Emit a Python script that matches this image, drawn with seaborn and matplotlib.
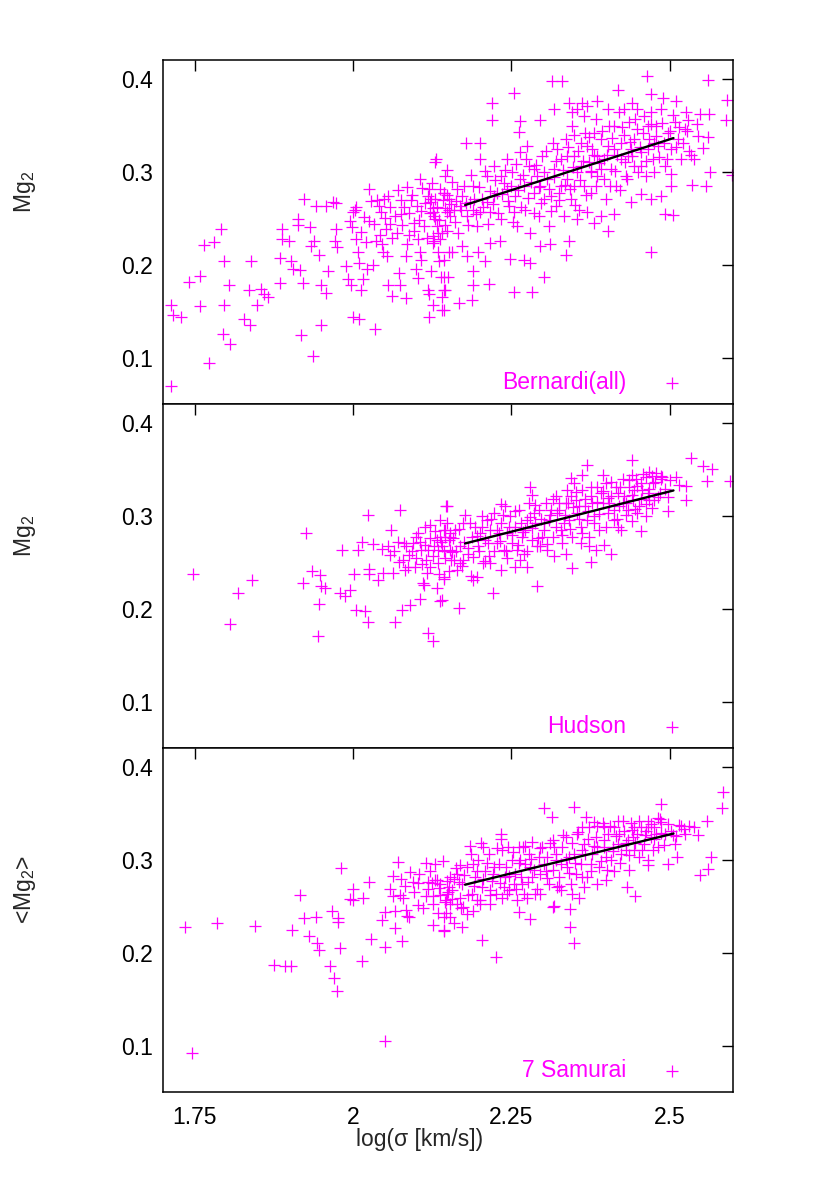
import numpy as np
import matplotlib
matplotlib.use('Agg')
import matplotlib.pyplot as plt
import seaborn as sns
import pandas as pd

# values (log sigma, Mg2)
bernardi_pts = [
    (1.712, 0.069), (1.712, 0.156), (1.715, 0.146), (1.729, 0.144), (1.741, 0.181), (1.758, 0.188),
    (1.758, 0.155), (1.765, 0.221), (1.781, 0.224), (1.791, 0.238), (1.772, 0.094), (1.796, 0.204),
    (1.796, 0.157), (1.795, 0.125), (1.806, 0.114), (1.804, 0.178), (1.828, 0.141), (1.837, 0.135),
    (1.836, 0.173), (1.839, 0.204), (1.848, 0.156), (1.855, 0.174), (1.859, 0.168), (1.865, 0.165),
    (1.884, 0.180), (1.884, 0.207), (1.888, 0.227), (1.888, 0.238), (1.899, 0.225), (1.902, 0.204),
    (1.905, 0.195), (1.917, 0.194), (1.918, 0.124), (1.921, 0.180), (1.913, 0.249), (1.913, 0.243),
    (1.923, 0.271), (1.932, 0.240), (1.937, 0.102), (1.939, 0.225), (1.934, 0.220), (1.942, 0.263),
    (1.946, 0.210), (1.950, 0.178), (1.949, 0.135), (1.957, 0.169), (1.961, 0.193), (1.958, 0.263),
    (1.969, 0.267), (1.973, 0.266), (1.973, 0.238), (1.971, 0.225), (1.975, 0.219), (1.989, 0.198),
    (1.992, 0.184), (1.997, 0.178), (2.000, 0.144), (2.009, 0.141), (2.003, 0.259), (2.000, 0.256),
    (1.995, 0.247), (1.999, 0.240), (2.004, 0.227), (2.008, 0.214), (2.010, 0.202), (2.013, 0.173),
    (2.015, 0.184), (2.021, 0.224), (2.025, 0.281), (2.026, 0.247), (2.022, 0.195), (2.032, 0.200),
    (2.035, 0.131), (2.038, 0.269), (2.041, 0.263), (2.043, 0.232), (2.045, 0.222), (2.047, 0.214),
    (2.051, 0.250), (2.054, 0.209), (2.056, 0.274), (2.059, 0.244), (2.061, 0.166), (2.056, 0.178),
    (2.069, 0.234), (2.073, 0.191), (2.074, 0.178), (2.075, 0.269), (2.076, 0.254), (2.083, 0.209),
    (2.083, 0.164), (2.086, 0.283), (2.088, 0.232), (2.091, 0.269), (2.096, 0.245), (2.100, 0.195),
    (2.102, 0.186), (2.105, 0.292), (2.105, 0.213), (2.102, 0.227), (2.108, 0.258), (2.108, 0.205),
    (2.118, 0.173), (2.120, 0.168), (2.120, 0.144), (2.123, 0.193), (2.126, 0.157), (2.120, 0.281),
    (2.123, 0.270), (2.126, 0.261), (2.128, 0.252), (2.127, 0.231), (2.130, 0.310), (2.131, 0.314),
    (2.134, 0.213), (2.136, 0.204), (2.139, 0.187), (2.140, 0.151), (2.141, 0.165), (2.144, 0.173),
    (2.145, 0.295), (2.149, 0.302), (2.152, 0.259), (2.148, 0.236), (2.152, 0.213), (2.150, 0.187),
    (2.119, 0.274), (2.122, 0.267), (2.127, 0.256), (2.130, 0.249), (2.132, 0.241), (2.135, 0.234),
    (2.137, 0.227), (2.145, 0.261), (2.148, 0.256), (2.143, 0.277), (2.140, 0.234), (2.128, 0.225),
    (2.126, 0.223),
    (2.314, 0.397), (2.330, 0.397), (2.254, 0.385), (2.220, 0.374), (2.220, 0.356), (2.419, 0.388),
    (2.464, 0.403), (2.560, 0.398), (2.591, 0.377), (2.589, 0.356), (2.548, 0.362), (2.562, 0.362),
    (2.560, 0.337), (2.563, 0.300), (2.536, 0.286), (2.557, 0.285), (2.598, 0.296), (2.502, 0.297),
    (2.502, 0.285), (2.493, 0.254), (2.506, 0.253), (2.471, 0.213), (2.301, 0.187), (2.254, 0.171),
    (2.283, 0.171), (2.336, 0.210), (2.402, 0.236), (2.380, 0.245), (2.214, 0.179), (2.189, 0.193),
    (2.190, 0.178), (2.188, 0.162), (2.167, 0.159), (2.144, 0.151), (2.146, 0.173), (2.143, 0.187),
    (2.178, 0.331), (2.200, 0.331), (2.263, 0.354), (2.262, 0.343), (2.296, 0.356), (2.317, 0.367),
    (2.341, 0.374), (2.361, 0.374), (2.385, 0.376), (2.441, 0.374), (2.471, 0.383), (2.489, 0.379),
    (2.510, 0.376), (2.527, 0.344), (2.543, 0.351), (2.531, 0.322), (2.539, 0.314), (2.486, 0.274),
    (2.471, 0.271), (2.455, 0.276), (2.439, 0.267), (2.412, 0.254), (2.391, 0.252), (2.370, 0.256),
    (2.354, 0.249), (2.341, 0.225), (2.311, 0.222), (2.296, 0.220), (2.280, 0.202), (2.270, 0.205),
    (2.248, 0.206), (2.232, 0.225), (2.216, 0.223), (2.208, 0.204), (2.198, 0.213), (2.180, 0.209),
    (2.172, 0.220), (2.157, 0.214), (2.143, 0.205),
    (2.143, 0.277), (2.151, 0.270), (2.159, 0.259), (2.164, 0.281), (2.172, 0.274), (2.180, 0.252),
    (2.185, 0.267), (2.190, 0.285), (2.196, 0.241), (2.201, 0.313), (2.203, 0.270), (2.211, 0.295),
    (2.217, 0.256), (2.222, 0.306), (2.227, 0.277), (2.233, 0.249), (2.238, 0.288), (2.243, 0.313),
    (2.246, 0.263), (2.251, 0.299), (2.256, 0.274), (2.259, 0.241), (2.264, 0.321), (2.270, 0.285),
    (2.272, 0.259), (2.278, 0.306), (2.280, 0.234), (2.285, 0.277), (2.291, 0.295), (2.293, 0.252),
    (2.299, 0.317), (2.301, 0.270), (2.307, 0.292), (2.309, 0.241), (2.315, 0.331), (2.317, 0.303),
    (2.320, 0.263), (2.325, 0.277), (2.328, 0.313), (2.333, 0.252), (2.336, 0.335), (2.338, 0.292),
    (2.344, 0.270), (2.346, 0.349), (2.349, 0.317), (2.354, 0.299), (2.357, 0.259), (2.360, 0.331),
    (2.365, 0.285), (2.367, 0.342), (2.373, 0.310), (2.375, 0.277), (2.378, 0.324), (2.383, 0.357),
    (2.386, 0.295), (2.391, 0.335), (2.397, 0.313), (2.399, 0.270), (2.404, 0.349), (2.407, 0.303),
    (2.412, 0.324), (2.415, 0.285), (2.420, 0.364), (2.423, 0.313), (2.428, 0.339), (2.431, 0.295),
    (2.436, 0.353), (2.439, 0.324), (2.444, 0.306), (2.449, 0.346), (2.455, 0.321), (2.460, 0.360),
    (2.463, 0.295), (2.468, 0.335), (2.473, 0.313), (2.479, 0.349), (2.481, 0.328), (2.486, 0.367),
    (2.492, 0.306), (2.497, 0.342), (2.502, 0.324), (2.508, 0.353), (2.513, 0.335), (2.518, 0.313),
    (2.524, 0.346), (2.526, 0.364),
    (2.322, 0.324), (2.338, 0.317), (2.349, 0.285), (2.360, 0.306), (2.370, 0.328), (2.381, 0.342),
    (2.391, 0.303), (2.402, 0.328), (2.412, 0.349), (2.423, 0.331), (2.434, 0.317), (2.444, 0.335),
    (2.455, 0.306), (2.465, 0.349), (2.476, 0.331), (2.349, 0.339), (2.328, 0.285), (2.312, 0.274),
    (2.296, 0.285), (2.285, 0.303), (2.275, 0.328), (2.264, 0.292), (2.254, 0.256), (2.243, 0.281),
    (2.233, 0.295), (2.222, 0.274), (2.211, 0.267), (2.201, 0.256), (2.190, 0.259), (2.169, 0.263),
    (2.153, 0.252), (2.375, 0.299), (2.386, 0.317), (2.365, 0.360), (2.354, 0.367), (2.346, 0.364),
    (2.402, 0.367), (2.428, 0.367), (2.449, 0.367), (2.471, 0.364), (2.370, 0.371),
    (2.005, 0.262), (2.012, 0.235), (2.018, 0.251), (2.028, 0.268), (2.033, 0.244), (2.037, 0.225),
    (2.044, 0.256), (2.049, 0.271), (2.052, 0.238), (2.058, 0.262), (2.062, 0.229), (2.066, 0.252),
    (2.071, 0.280), (2.078, 0.243), (2.081, 0.262), (2.085, 0.222), (2.089, 0.255), (2.093, 0.275),
    (2.097, 0.236), (2.101, 0.263), (2.104, 0.248), (2.109, 0.282), (2.112, 0.241), (2.114, 0.266),
    (2.117, 0.229), (2.121, 0.255), (2.125, 0.288), (2.129, 0.271), (2.133, 0.262), (2.136, 0.248),
    (2.138, 0.281), (2.142, 0.269), (2.146, 0.243), (2.149, 0.275), (2.154, 0.265), (2.157, 0.289),
    (2.161, 0.246), (2.163, 0.268), (2.166, 0.234), (2.170, 0.259), (2.175, 0.285), (2.178, 0.266),
    (2.182, 0.243), (2.186, 0.296), (2.191, 0.271), (2.194, 0.254), (2.199, 0.283), (2.205, 0.262),
    (2.208, 0.301), (2.213, 0.244), (2.216, 0.279), (2.221, 0.265), (2.224, 0.291), (2.229, 0.255),
    (2.235, 0.276), (2.240, 0.302), (2.244, 0.268), (2.249, 0.285), (2.253, 0.246), (2.257, 0.308),
    (2.261, 0.280), (2.266, 0.262), (2.268, 0.296), (2.273, 0.313), (2.277, 0.272), (2.281, 0.289),
    (2.286, 0.255), (2.289, 0.307), (2.294, 0.283), (2.297, 0.266), (2.302, 0.299), (2.305, 0.322),
    (2.310, 0.281), (2.313, 0.258), (2.318, 0.294), (2.321, 0.311), (2.326, 0.269), (2.331, 0.302),
    (2.334, 0.286), (2.339, 0.326), (2.343, 0.281), (2.347, 0.305), (2.351, 0.264), (2.356, 0.322),
    (2.359, 0.291), (2.363, 0.311), (2.368, 0.275), (2.372, 0.337), (2.376, 0.301), (2.380, 0.318),
    (2.384, 0.284), (2.389, 0.309), (2.393, 0.344), (2.396, 0.292), (2.401, 0.318), (2.405, 0.285),
    (2.409, 0.336), (2.413, 0.301), (2.417, 0.318), (2.421, 0.280), (2.425, 0.348), (2.429, 0.310),
    (2.433, 0.292), (2.437, 0.332), (2.441, 0.317), (2.446, 0.357), (2.450, 0.299), (2.453, 0.326),
    (2.458, 0.341), (2.462, 0.311), (2.466, 0.324), (2.470, 0.351), (2.475, 0.300), (2.478, 0.338),
    (2.483, 0.316), (2.488, 0.352), (2.491, 0.331), (2.495, 0.314), (2.500, 0.344), (2.505, 0.361),
    (2.510, 0.326), (2.515, 0.348), (2.521, 0.331), (2.529, 0.356), (2.534, 0.318), (2.545, 0.338),
    (2.552, 0.325),
]

hudson_pts = [
    (1.748, 0.237), (1.806, 0.183), (1.819, 0.217), (1.840, 0.231), (1.921, 0.228), (1.925, 0.281),
    (1.936, 0.240), (1.948, 0.236), (1.950, 0.224), (1.955, 0.222), (1.946, 0.205), (1.944, 0.171),
    (1.979, 0.217), (1.988, 0.213), (1.996, 0.220), (1.983, 0.263), (2.001, 0.237), (2.004, 0.198),
    (2.019, 0.197), (2.024, 0.186), (2.008, 0.263), (2.014, 0.272), (2.024, 0.301), (2.026, 0.243),
    (2.026, 0.237), (2.031, 0.269), (2.040, 0.231), (2.045, 0.264), (2.047, 0.238), (2.055, 0.267),
    (2.058, 0.258), (2.060, 0.285), (2.063, 0.238), (2.067, 0.185), (2.071, 0.272), (2.074, 0.306),
    (2.078, 0.198), (2.079, 0.252), (2.082, 0.241), (2.084, 0.267), (2.088, 0.258), (2.090, 0.204),
    (2.098, 0.245), (2.100, 0.277), (2.105, 0.210), (2.108, 0.263), (2.111, 0.227), (2.112, 0.225),
    (2.114, 0.288), (2.116, 0.252), (2.118, 0.174), (2.122, 0.290), (2.122, 0.245), (2.127, 0.165),
    (2.128, 0.267), (2.133, 0.222), (2.136, 0.237), (2.138, 0.208), (2.137, 0.295), (2.141, 0.267),
    (2.143, 0.232), (2.146, 0.254), (2.147, 0.310), (2.152, 0.274), (2.152, 0.240), (2.153, 0.281),
    (2.132, 0.274), (2.135, 0.263), (2.143, 0.285), (2.145, 0.277), (2.156, 0.261), (2.119, 0.263),
    (2.106, 0.272), (2.095, 0.270),
    (2.168, 0.201), (2.221, 0.217), (2.291, 0.224), (2.345, 0.244), (2.376, 0.250), (2.407, 0.259),
    (2.317, 0.256), (2.140, 0.209), (2.143, 0.234), (2.190, 0.231), (2.187, 0.235), (2.148, 0.310),
    (2.177, 0.301), (2.233, 0.312), (2.279, 0.331), (2.283, 0.322), (2.344, 0.340), (2.349, 0.335),
    (2.362, 0.344), (2.369, 0.354), (2.395, 0.344), (2.440, 0.360), (2.440, 0.344), (2.467, 0.347),
    (2.472, 0.343), (2.488, 0.341), (2.514, 0.333), (2.526, 0.332), (2.525, 0.317), (2.534, 0.362),
    (2.552, 0.353), (2.567, 0.350), (2.559, 0.337), (2.595, 0.337), (2.498, 0.320), (2.497, 0.305),
    (2.455, 0.283), (2.441, 0.294), (2.418, 0.288), (2.463, 0.299), (2.396, 0.268), (2.383, 0.263),
    (2.336, 0.259), (2.255, 0.245), (2.275, 0.245), (2.243, 0.254), (2.291, 0.267), (2.217, 0.249),
    (2.159, 0.252), (2.169, 0.249), (2.153, 0.263), (2.137, 0.277), (2.145, 0.285),
    (2.153, 0.277), (2.161, 0.285), (2.169, 0.267), (2.174, 0.292), (2.182, 0.259), (2.188, 0.277),
    (2.193, 0.288), (2.198, 0.267), (2.203, 0.299), (2.209, 0.274), (2.214, 0.256), (2.217, 0.285),
    (2.222, 0.303), (2.227, 0.270), (2.233, 0.292), (2.238, 0.263), (2.243, 0.281), (2.248, 0.299),
    (2.251, 0.270), (2.256, 0.288), (2.262, 0.306), (2.267, 0.277), (2.270, 0.259), (2.275, 0.295),
    (2.278, 0.313), (2.283, 0.274), (2.288, 0.292), (2.293, 0.306), (2.296, 0.267), (2.301, 0.285),
    (2.304, 0.313), (2.309, 0.295), (2.315, 0.277), (2.320, 0.321), (2.322, 0.303), (2.328, 0.285),
    (2.330, 0.270), (2.336, 0.313), (2.338, 0.328), (2.341, 0.295), (2.346, 0.277), (2.352, 0.317),
    (2.354, 0.303), (2.360, 0.288), (2.362, 0.328), (2.367, 0.310), (2.373, 0.277), (2.375, 0.321),
    (2.381, 0.299), (2.386, 0.331), (2.389, 0.285), (2.394, 0.313), (2.399, 0.335), (2.402, 0.303),
    (2.407, 0.321), (2.412, 0.295), (2.415, 0.331), (2.420, 0.310), (2.426, 0.339), (2.428, 0.321),
    (2.434, 0.306), (2.436, 0.331), (2.442, 0.317), (2.447, 0.339), (2.452, 0.310), (2.457, 0.328),
    (2.463, 0.342), (2.468, 0.317), (2.473, 0.335), (2.479, 0.346), (2.484, 0.324), (2.486, 0.339),
    (2.201, 0.281), (2.211, 0.295), (2.230, 0.281), (2.240, 0.310), (2.259, 0.263), (2.272, 0.285),
    (2.285, 0.303), (2.299, 0.277), (2.312, 0.306), (2.325, 0.313), (2.333, 0.292), (2.344, 0.321),
    (2.357, 0.310), (2.370, 0.295), (2.378, 0.313), (2.391, 0.324), (2.404, 0.313), (2.418, 0.324),
    (2.431, 0.313), (2.444, 0.328), (2.455, 0.335), (2.465, 0.324), (2.476, 0.317), (2.449, 0.303),
    (2.423, 0.285), (2.373, 0.267), (2.360, 0.270), (2.307, 0.263), (2.264, 0.252), (2.233, 0.241),
    (2.206, 0.249), (2.174, 0.252), (2.164, 0.241), (2.196, 0.234),
    (2.065, 0.262), (2.072, 0.250), (2.080, 0.271), (2.087, 0.245), (2.093, 0.262), (2.099, 0.254),
    (2.103, 0.281), (2.109, 0.248), (2.113, 0.268), (2.117, 0.238), (2.121, 0.276), (2.126, 0.257),
    (2.130, 0.283), (2.134, 0.249), (2.139, 0.272), (2.144, 0.262), (2.149, 0.292), (2.154, 0.252),
    (2.158, 0.276), (2.163, 0.262), (2.167, 0.286), (2.172, 0.246), (2.176, 0.272), (2.181, 0.265),
    (2.185, 0.292), (2.190, 0.255), (2.195, 0.278), (2.199, 0.262), (2.204, 0.288), (2.208, 0.251),
    (2.213, 0.271), (2.218, 0.296), (2.223, 0.262), (2.228, 0.284), (2.232, 0.273), (2.237, 0.301),
    (2.242, 0.262), (2.246, 0.288), (2.251, 0.279), (2.255, 0.305), (2.260, 0.268), (2.265, 0.292),
    (2.269, 0.282), (2.274, 0.262), (2.279, 0.298), (2.283, 0.287), (2.288, 0.311), (2.292, 0.276),
    (2.297, 0.296), (2.302, 0.292), (2.306, 0.269), (2.311, 0.301), (2.316, 0.318), (2.320, 0.288),
    (2.325, 0.306), (2.330, 0.279), (2.334, 0.301), (2.339, 0.313), (2.343, 0.286), (2.348, 0.309),
    (2.352, 0.325), (2.357, 0.296), (2.362, 0.281), (2.366, 0.318), (2.371, 0.305), (2.376, 0.331),
    (2.380, 0.292), (2.385, 0.315), (2.389, 0.302), (2.394, 0.326), (2.399, 0.288), (2.403, 0.319),
    (2.408, 0.336), (2.412, 0.306), (2.417, 0.296), (2.421, 0.331), (2.426, 0.314), (2.431, 0.301),
    (2.435, 0.338), (2.440, 0.322), (2.445, 0.307), (2.449, 0.332), (2.454, 0.318), (2.458, 0.345),
    (2.463, 0.312), (2.468, 0.329), (2.472, 0.308), (2.477, 0.336), (2.482, 0.320), (2.487, 0.343),
    (2.492, 0.329), (2.500, 0.338), (2.510, 0.342),
]

samurai_pts = [
    (1.734, 0.228), (1.745, 0.092), (1.785, 0.232), (1.845, 0.229), (1.875, 0.187), (1.892, 0.185),
    (1.902, 0.186), (1.903, 0.224), (1.917, 0.262), (1.922, 0.237), (1.931, 0.218), (1.942, 0.238),
    (1.943, 0.210), (1.946, 0.203), (1.964, 0.185), (1.970, 0.173), (1.975, 0.159), (1.967, 0.245),
    (1.976, 0.237), (1.976, 0.233), (1.979, 0.205), (1.981, 0.291), (1.996, 0.258), (2.000, 0.268),
    (2.000, 0.256), (2.014, 0.191), (2.016, 0.259), (2.025, 0.276), (2.028, 0.215), (2.045, 0.235),
    (2.050, 0.244), (2.050, 0.206), (2.050, 0.105), (2.063, 0.282), (2.063, 0.261), (2.067, 0.226),
    (2.071, 0.297), (2.076, 0.279), (2.079, 0.259), (2.077, 0.212), (2.084, 0.246), (2.085, 0.239),
    (2.090, 0.287), (2.094, 0.276), (2.102, 0.251), (2.103, 0.275), (2.116, 0.296), (2.119, 0.268),
    (2.126, 0.230), (2.127, 0.261), (2.129, 0.295), (2.129, 0.278), (2.134, 0.243), (2.143, 0.223),
    (2.146, 0.254), (2.150, 0.265), (2.153, 0.281), (2.153, 0.238), (2.119, 0.276), (2.124, 0.275),
    (2.136, 0.269), (2.147, 0.256),
    (2.226, 0.195), (2.203, 0.213), (2.349, 0.210), (2.343, 0.228), (2.342, 0.247), (2.316, 0.249),
    (2.280, 0.236), (2.262, 0.244), (2.172, 0.227), (2.159, 0.232), (2.143, 0.224), (2.143, 0.238),
    (2.301, 0.356), (2.314, 0.346), (2.349, 0.357), (2.368, 0.346), (2.486, 0.360), (2.484, 0.344),
    (2.584, 0.373), (2.583, 0.355), (2.559, 0.341), (2.544, 0.326), (2.566, 0.303), (2.561, 0.290),
    (2.548, 0.283), (2.512, 0.303), (2.497, 0.295), (2.466, 0.294), (2.445, 0.261), (2.433, 0.271),
    (2.436, 0.289), (2.399, 0.278), (2.357, 0.259), (2.317, 0.250), (2.185, 0.315), (2.202, 0.318),
    (2.234, 0.328), (2.233, 0.322), (2.244, 0.314), (2.269, 0.314), (2.282, 0.319), (2.531, 0.336),
    (2.518, 0.336), (2.510, 0.325), (2.159, 0.279), (2.169, 0.294), (2.137, 0.274),
    (2.148, 0.263), (2.164, 0.252), (2.174, 0.249), (2.190, 0.245), (2.201, 0.256), (2.217, 0.252),
    (2.243, 0.263), (2.259, 0.256), (2.275, 0.259), (2.296, 0.263), (2.322, 0.270),
    (2.148, 0.277), (2.156, 0.267), (2.164, 0.285), (2.172, 0.274), (2.180, 0.292), (2.188, 0.263),
    (2.193, 0.281), (2.198, 0.299), (2.203, 0.270), (2.209, 0.288), (2.214, 0.306), (2.219, 0.277),
    (2.225, 0.263), (2.230, 0.295), (2.235, 0.310), (2.240, 0.281), (2.246, 0.267), (2.251, 0.299),
    (2.256, 0.285), (2.262, 0.313), (2.267, 0.274), (2.272, 0.295), (2.278, 0.306), (2.283, 0.281),
    (2.288, 0.263), (2.293, 0.303), (2.299, 0.313), (2.304, 0.288), (2.309, 0.274), (2.315, 0.321),
    (2.320, 0.299), (2.325, 0.281), (2.330, 0.313), (2.336, 0.324), (2.338, 0.292), (2.344, 0.274),
    (2.349, 0.306), (2.354, 0.328), (2.360, 0.295), (2.365, 0.317), (2.370, 0.281), (2.373, 0.335),
    (2.378, 0.306), (2.383, 0.324), (2.389, 0.292), (2.394, 0.339), (2.397, 0.313), (2.402, 0.328),
    (2.407, 0.299), (2.412, 0.335), (2.418, 0.317), (2.423, 0.306), (2.428, 0.331), (2.434, 0.321),
    (2.439, 0.339), (2.444, 0.310), (2.449, 0.328), (2.455, 0.335), (2.460, 0.317), (2.465, 0.342),
    (2.471, 0.324), (2.476, 0.335), (2.481, 0.313), (2.486, 0.340), (2.492, 0.328), (2.502, 0.331),
    (2.508, 0.317), (2.524, 0.328), (2.539, 0.335),
    (2.190, 0.295), (2.206, 0.313), (2.222, 0.292), (2.238, 0.270), (2.254, 0.274), (2.264, 0.299),
    (2.280, 0.292), (2.296, 0.285), (2.307, 0.303), (2.317, 0.313), (2.328, 0.295), (2.341, 0.303),
    (2.352, 0.285), (2.362, 0.310), (2.375, 0.295), (2.386, 0.313), (2.399, 0.303), (2.410, 0.313),
    (2.420, 0.328), (2.431, 0.310), (2.442, 0.324), (2.452, 0.303), (2.463, 0.331), (2.473, 0.310),
    (2.479, 0.328), (2.362, 0.335), (2.381, 0.340), (2.397, 0.335), (2.418, 0.342), (2.444, 0.335),
    (2.465, 0.335), (2.386, 0.274), (2.412, 0.288), (2.365, 0.270), (2.346, 0.263), (2.328, 0.267),
    (2.270, 0.263), (2.217, 0.267), (2.169, 0.259), (2.153, 0.252), (2.180, 0.241), (2.196, 0.256),
    (2.058, 0.268), (2.066, 0.245), (2.074, 0.262), (2.082, 0.272), (2.089, 0.238), (2.096, 0.265),
    (2.104, 0.284), (2.110, 0.248), (2.115, 0.261), (2.121, 0.288), (2.127, 0.252), (2.133, 0.278),
    (2.138, 0.262), (2.142, 0.298), (2.147, 0.242), (2.152, 0.271), (2.157, 0.258), (2.162, 0.291),
    (2.167, 0.276), (2.171, 0.248), (2.176, 0.283), (2.182, 0.262), (2.186, 0.306), (2.191, 0.272),
    (2.196, 0.288), (2.201, 0.252), (2.206, 0.279), (2.211, 0.296), (2.216, 0.262), (2.221, 0.284),
    (2.227, 0.312), (2.232, 0.275), (2.236, 0.259), (2.241, 0.292), (2.247, 0.282), (2.252, 0.308),
    (2.257, 0.268), (2.262, 0.296), (2.266, 0.281), (2.271, 0.315), (2.276, 0.276), (2.281, 0.301),
    (2.286, 0.289), (2.291, 0.268), (2.296, 0.312), (2.301, 0.295), (2.306, 0.280), (2.311, 0.318),
    (2.316, 0.289), (2.321, 0.306), (2.326, 0.272), (2.331, 0.326), (2.336, 0.301), (2.341, 0.286),
    (2.346, 0.318), (2.351, 0.296), (2.356, 0.330), (2.361, 0.281), (2.366, 0.306), (2.371, 0.322),
    (2.376, 0.288), (2.381, 0.315), (2.386, 0.336), (2.391, 0.298), (2.396, 0.321), (2.401, 0.289),
    (2.406, 0.336), (2.411, 0.309), (2.416, 0.325), (2.421, 0.296), (2.426, 0.341), (2.431, 0.318),
    (2.436, 0.305), (2.441, 0.332), (2.446, 0.318), (2.451, 0.342), (2.456, 0.310), (2.461, 0.326),
    (2.466, 0.300), (2.471, 0.338), (2.476, 0.322), (2.481, 0.345), (2.486, 0.329), (2.491, 0.316),
    (2.497, 0.338), (2.505, 0.326), (2.514, 0.337), (2.522, 0.333),
]

# fitted relations (end points)
fit_x = [2.177, 2.506]
bernardi_fit = [0.264, 0.336]
hudson_fit = [0.270, 0.327]
samurai_fit = [0.273, 0.328]

panels = [
    ('Bernardi(all)', bernardi_pts, bernardi_fit, 'Mg$_2$'),
    ('Hudson', hudson_pts, hudson_fit, 'Mg$_2$'),
    ('7 Samurai', samurai_pts, samurai_fit, '<Mg$_2$>'),
]

xticks = [1.75, 2.0, 2.25, 2.5]
xticklabels = ['1.75', '2', '2.25', '2.5']
yticks = [0.1, 0.2, 0.3, 0.4]
yticklabels = ['0.1', '0.2', '0.3', '0.4']

sns.set_style('white')
plt.rcParams['font.family'] = ['Liberation Sans', 'DejaVu Sans']
plt.rcParams['mathtext.fontset'] = 'custom'
plt.rcParams['mathtext.rm'] = 'Liberation Sans'
plt.rcParams['mathtext.it'] = 'Liberation Sans'
FS = 16.5
plt.rcParams['font.size'] = FS

W, H = 830, 1186
fig = plt.figure(figsize=(W / 100, H / 100), dpi=100)

left, right = 163, 733
tops = [60, 404, 748]
ph = 344
label_y = [192, 536, 889]

for i, (name, pts, fit_y, ylab) in enumerate(panels):
    ax = fig.add_axes([left / W, 1 - (tops[i] + ph) / H, (right - left) / W, ph / H])
    df = pd.DataFrame(pts, columns=['logsig', 'mg2'])
    sns.scatterplot(data=df, x='logsig', y='mg2', marker='+', color='#ff00ff',
                    s=80, linewidth=0.9, ax=ax, label=name, legend=False)
    sns.lineplot(x=fit_x, y=fit_y, color='black', linewidth=1.7, ax=ax, legend=False)
    ax.set_xlim(1.7, 2.6)
    ax.set_ylim(0.05, 0.42)
    ax.set_xticks(xticks)
    ax.set_yticks(yticks)
    ax.set_yticklabels(yticklabels)
    ax.tick_params(direction='in', top=True, right=True, length=8, width=1.0,
                   labelsize=FS, pad=7, colors='black')
    ax.tick_params(axis='x', pad=10)
    if i == 2:
        ax.set_xticklabels(xticklabels)
        ax.set_xlabel('log(σ [km/s])', fontsize=FS)
        ax.xaxis.set_label_coords(0.45, -0.105)
    else:
        ax.set_xticklabels([])
        ax.set_xlabel('')
    ax.set_ylabel('')
    for sp in ax.spines.values():
        sp.set_linewidth(1.1)
        sp.set_color('black')
    fig.text(25 / W, 1 - label_y[i] / H, ylab, rotation=90, ha='center', va='center', fontsize=FS)
    handles, labels = ax.get_legend_handles_labels()
    ax.legend(handles[:1], [name], loc='center right', bbox_to_anchor=(0.933, 0.062),
              frameon=False, markerfirst=False, handlelength=2.0, handletextpad=1.0,
              borderaxespad=0, borderpad=0, fontsize=FS, labelcolor='#ff00ff')

fig.savefig('out.png', dpi=100)
